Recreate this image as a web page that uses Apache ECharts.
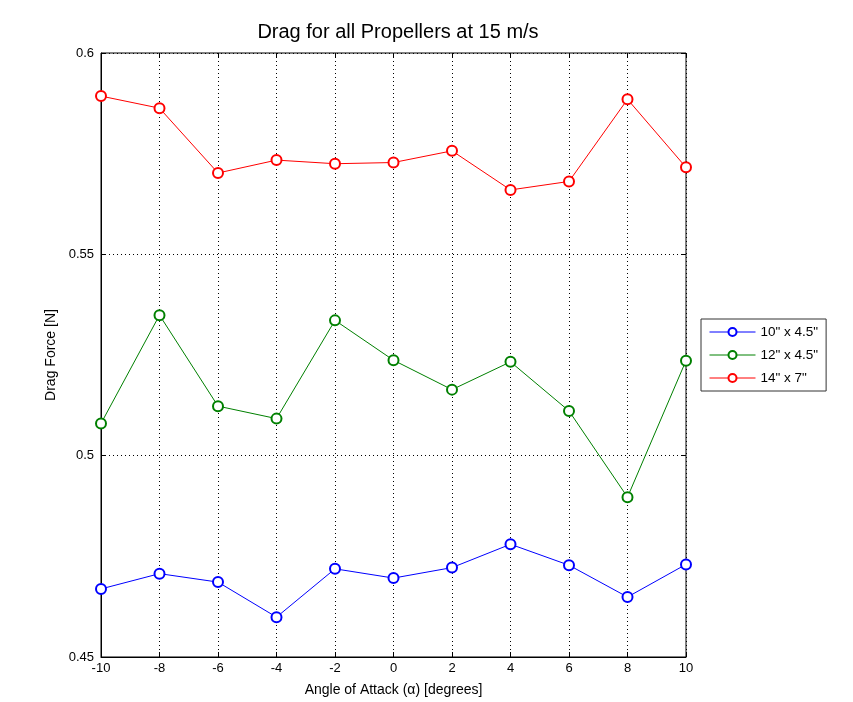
<!DOCTYPE html>
<html><head><meta charset="utf-8">
<script src="https://cdn.jsdelivr.net/npm/echarts@6/dist/echarts.min.js"></script>
<style>html,body{margin:0;padding:0;background:#fff}#c{width:853px;height:702px}</style>
</head><body><div id="c"></div>
<script>
var angles = [-10, -8, -6, -4, -2, 0, 2, 4, 6, 8, 10];
var prop10 = [0.4669, 0.4707, 0.4686, 0.4599, 0.4719, 0.4696, 0.4722, 0.4780, 0.4728, 0.4649, 0.4730];
var prop12 = [0.5080, 0.5349, 0.5123, 0.5092, 0.5336, 0.5237, 0.5164, 0.5233, 0.5111, 0.4897, 0.5236];
var prop14 = [0.5893, 0.5863, 0.5702, 0.5734, 0.5725, 0.5728, 0.5757, 0.5660, 0.5681, 0.5885, 0.5716];
var seriesNames = ['10" x 4.5"', '12" x 4.5"', '14" x 7"'];
var seriesColors = ['#0000ff', '#008000', '#ff0000'];

function pairs(ys){ return angles.map(function(a,i){ return [a, ys[i]]; }); }
var font = 'Liberation Sans, Arial, sans-serif';
var chart = echarts.init(document.getElementById('c'), null, {renderer:'canvas'});
var dataSets = [prop10, prop12, prop14];
chart.setOption({
  backgroundColor: '#fff',
  animation: false,
  title: {text: 'Drag for all Propellers at 15 m/s', left: 393, textAlign: 'center', top: 17,
    textStyle: {fontFamily: font, fontSize: 20, fontWeight: 'normal', color: '#000'}},
  grid: {left: 101, right: 167, top: 53, bottom: 45, show: true, borderColor: '#000', borderWidth: 1},
  legend: {orient: 'vertical', left: 701, top: 319, backgroundColor: '#fff', borderColor: '#333', borderWidth: 1,
    padding: [6, 8, 6, 8], itemWidth: 46, itemHeight: 10, itemGap: 9,
    lineStyle: {width: 1}, itemStyle: {borderWidth: 1},
    textStyle: {fontFamily: font, fontSize: 13.5, color: '#000'},
    data: seriesNames},
  xAxis: [{type: 'value', min: -10, max: 10, interval: 2,
    name: 'Angle of Attack (\u03b1) [degrees]', nameLocation: 'middle', nameGap: 26,
    nameTextStyle: {fontFamily: font, fontSize: 14, color: '#000'},
    axisLine: {onZero: false, lineStyle: {color: '#000'}}, axisTick: {inside: true, length: 5, lineStyle: {color: '#000'}},
    axisLabel: {fontFamily: font, fontSize: 13, color: '#000', margin: 5},
    splitLine: {show: true, lineStyle: {type: [1, 3], color: '#000'}}},
   {type: 'value', position: 'top', min: -10, max: 10, interval: 2,
    axisLine: {show: false, onZero: false}, axisTick: {inside: true, length: 5, lineStyle: {color: '#000'}},
    axisLabel: {show: false}, splitLine: {show: false}}],
  yAxis: [{type: 'value', min: 0.45, max: 0.6, interval: 0.05,
    name: 'Drag Force [N]', nameLocation: 'middle', nameGap: 42,
    nameTextStyle: {fontFamily: font, fontSize: 14, color: '#000'},
    axisLine: {show: true, onZero: false, lineStyle: {color: '#000'}}, axisTick: {show: true, inside: true, length: 5, lineStyle: {color: '#000'}},
    axisLabel: {fontFamily: font, fontSize: 13, color: '#000', margin: 7,
      formatter: function(v){ return String(+v.toFixed(2)); }},
    splitLine: {show: true, lineStyle: {type: [1, 3], color: '#000'}}},
   {type: 'value', position: 'right', min: 0.45, max: 0.6, interval: 0.05,
    axisLine: {show: false, onZero: false}, axisTick: {show: true, inside: true, length: 5, lineStyle: {color: '#000'}},
    axisLabel: {show: false}, splitLine: {show: false}}],
  series: dataSets.map(function(d, i){
    return {name: seriesNames[i], type: 'line', data: pairs(d), color: seriesColors[i],
      symbol: 'emptyCircle', symbolSize: 10, showAllSymbol: true, lineStyle: {width: 1, color: seriesColors[i]},
      itemStyle: {color: seriesColors[i], borderColor: seriesColors[i], borderWidth: 1}};
  })
});
</script></body></html>
